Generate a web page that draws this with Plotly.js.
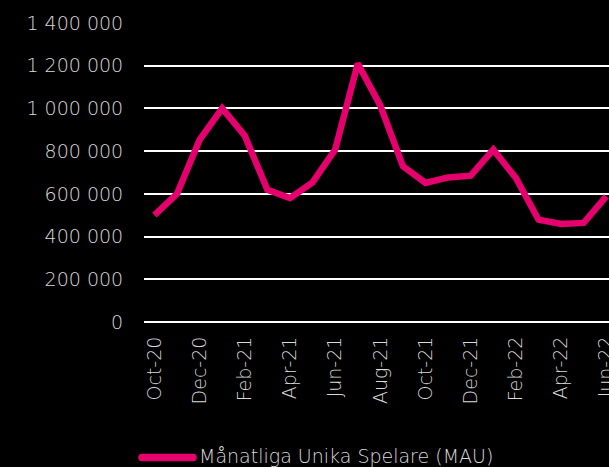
<!DOCTYPE html>
<html>
<head>
<meta charset="utf-8">
<script src="https://cdn.plot.ly/plotly-3.0.1.min.js"></script>
<style>
html,body{margin:0;padding:0;background:#000;overflow:hidden;}
#chart{width:609px;height:467px;}
</style>
</head>
<body>
<div id="chart"></div>
<script>
const months = ["Oct-20","Nov-20","Dec-20","Jan-21","Feb-21","Mar-21","Apr-21","May-21","Jun-21","Jul-21","Aug-21","Sep-21","Oct-21","Nov-21","Dec-21","Jan-22","Feb-22","Mar-22","Apr-22","May-22","Jun-22"];
const mau = [500000,600000,853000,1000000,872000,619000,580000,654000,807000,1210000,1013000,729000,651000,677000,685000,807000,674000,479000,459000,464000,588000];
const tickLabels = ["Oct-20","Dec-20","Feb-21","Apr-21","Jun-21","Aug-21","Oct-21","Dec-21","Feb-22","Apr-22","Jun-22"];
const seriesName = "Månatliga Unika Spelare (MAU)";

const textColor = "#d9d9d9";
const lineColor = "#e5006d";
const fontFam = "'DejaVu Sans', 'Open Sans', sans-serif";
const fsz = 19;
const fw = 200;

const trace = {
  x: months.map((m, i) => i),
  y: mau,
  type: "scatter",
  mode: "lines",
  name: seriesName,
  line: {color: lineColor, width: 6.5},
  cliponaxis: false,
  showlegend: false
};

const tickvals = tickLabels.map(t => months.indexOf(t));

// legend swatch geometry (pixels -> paper)
const plotL = 144, plotW = 465, plotB = 322, plotH = 300;
const px = p => (p - plotL) / plotW;
const py = p => (plotB - p) / plotH;
const lx0 = px(142), lx1 = px(193), rx = 3.8 / plotW;
const ly = py(457.5), hy = 3.8 / plotH;
const swatch = `M${lx0},${ly+hy} L${lx1},${ly+hy} Q${lx1+rx},${ly+hy} ${lx1+rx},${ly} Q${lx1+rx},${ly-hy} ${lx1},${ly-hy} L${lx0},${ly-hy} Q${lx0-rx},${ly-hy} ${lx0-rx},${ly} Q${lx0-rx},${ly+hy} ${lx0},${ly+hy} Z`;

const layout = {
  width: 609, height: 467,
  paper_bgcolor: "#000", plot_bgcolor: "#000",
  separators: ", ",
  margin: {l: 144, r: 0, t: 22, b: 145},
  font: {family: fontFam, color: textColor, size: fsz, weight: fw},
  xaxis: {
    range: [-0.46, 20.12],
    tickvals: tickvals,
    ticktext: tickLabels,
    tickangle: -90,
    ticklabeloverflow: "allow",
    showgrid: false,
    zeroline: false,
    showline: false,
    ticks: "outside", ticklen: 6, tickcolor: "rgba(0,0,0,0)",
    tickfont: {size: fsz, color: textColor, family: fontFam, weight: fw}
  },
  yaxis: {
    range: [0, 1404700],
    tickvals: [0,200000,400000,600000,800000,1000000,1200000,1400000],
    tickformat: ",d",
    showgrid: true,
    gridcolor: "#ffffff",
    gridwidth: 2,
    zeroline: true,
    zerolinecolor: "#ffffff",
    zerolinewidth: 2,
    showline: false,
    ticks: "outside", ticklen: 16, tickcolor: "rgba(0,0,0,0)",
    tickfont: {size: fsz, color: textColor, family: fontFam, weight: fw}
  },
  showlegend: false,
  shapes: [{
    type: "path", xref: "paper", yref: "paper",
    path: swatch,
    fillcolor: lineColor,
    line: {width: 0}
  }],
  annotations: [{
    text: seriesName,
    xref: "paper", yref: "paper",
    x: px(197), y: py(456),
    xanchor: "left", yanchor: "middle",
    showarrow: false,
    font: {size: fsz, color: textColor, family: fontFam, weight: fw}
  }]
};

Plotly.newPlot("chart", [trace], layout, {displayModeBar: false, staticPlot: true});
</script>
</body>
</html>
